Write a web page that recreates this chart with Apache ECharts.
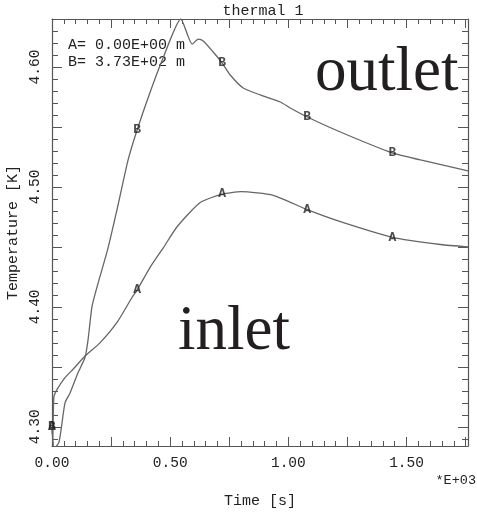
<!DOCTYPE html>
<html>
<head>
<meta charset="utf-8">
<script src="https://cdn.jsdelivr.net/npm/echarts@6/dist/echarts.min.js"></script>
<style>
html,body{margin:0;padding:0;background:#fff;}
#c{width:477px;height:512px;}
</style>
</head>
<body>
<div id="c"></div>
<script>
// ---- data (time in 1E+03 s, temperature in K) ----
const timeA = [0, 0.003, 0.008, 0.021, 0.055, 0.089, 0.140, 0.203, 0.275, 0.339, 0.360, 0.415, 0.470, 0.530, 0.627, 0.720, 0.800, 0.936, 1.080, 1.220, 1.440, 1.644, 1.760];
const tempA = [4.300, 4.289, 4.325, 4.331, 4.341, 4.348, 4.359, 4.370, 4.387, 4.408, 4.414, 4.433, 4.449, 4.467, 4.487, 4.494, 4.496, 4.493, 4.481, 4.471, 4.458, 4.452, 4.450];
const timeB = [0, 0.010, 0.030, 0.055, 0.076, 0.110, 0.140, 0.1525, 0.169, 0.191, 0.237, 0.275, 0.322, 0.360, 0.415, 0.470, 0.545, 0.593, 0.619, 0.640, 0.682, 0.720, 0.754, 0.809, 0.881, 0.966, 1.008, 1.080, 1.220, 1.440, 1.559, 1.760];
const tempB = [4.300, 4.282, 4.2875, 4.320, 4.328, 4.345, 4.358, 4.3725, 4.400, 4.417, 4.449, 4.481, 4.5225, 4.5475, 4.579, 4.6075, 4.640, 4.619, 4.6233, 4.6217, 4.6125, 4.6033, 4.5933, 4.5825, 4.5767, 4.5708, 4.5658, 4.5583, 4.5458, 4.5283, 4.5225, 4.5133];
const markerTimes = [0, 0.360, 0.720, 1.080, 1.440];
const seriesNames = ['A', 'B'];

// ---- axes ----
const xMin = 0, xMax = 1.76;
const yMin = 4.284, yMax = 4.64;
const xLabelValues = [0, 0.5, 1.0, 1.5];
const yLabelValues = [4.30, 4.40, 4.50, 4.60];
const xMajorStep = 0.25, xMinorStep = 0.05;
const yMajorStep = 0.05, yMinorStep = 0.01;

// ---- texts ----
const titleText = 'thermal 1';
const xName = 'Time [s]';
const yName = 'Temperature [K]';
const xScaleNote = '*E+03';
const legendLines = ['A= 0.00E+00 m', 'B= 3.73E+02 m'];
const annotOutlet = 'outlet';
const annotInlet = 'inlet';

const MONO = '"Liberation Mono", "DejaVu Sans Mono", monospace';
const SERIF = '"Liberation Serif", "DejaVu Serif", serif';
const AXC = '#555';
const TXT = '#222';

function r(v){ return Math.round(v * 10000) / 10000; }
function ticks(min, max, step){
  const out = [];
  const start = Math.ceil(r(min / step)) * step;
  for (let v = start; v <= max + 1e-9; v += step) out.push(r(v));
  return out;
}
function isMultiple(v, step){ const q = v / step; return Math.abs(q - Math.round(q)) < 1e-6; }

const xMajor = ticks(xMin, xMax, xMajorStep);
const xMinor = ticks(xMin, xMax, xMinorStep).filter(v => !isMultiple(v, xMajorStep));
const yMajor = ticks(yMin, yMax, yMajorStep);
const yMinor = ticks(yMin, yMax, yMinorStep).filter(v => !isMultiple(v, yMajorStep));

function zip(a, b){ return a.map((v, i) => [v, b[i]]); }
const dataA = zip(timeA, tempA);
const dataB = zip(timeB, tempB);
function markers(data){ return data.filter(p => markerTimes.some(t => Math.abs(t - p[0]) < 1e-9)); }

function xAx(pos, vals, len, line, labels){
  return {
    type: 'value', position: pos, min: xMin, max: xMax,
    axisLine: { show: line, onZero: false, lineStyle: { color: AXC, width: 1.2 } },
    axisTick: { show: true, inside: true, length: len, customValues: vals, lineStyle: { color: AXC, width: 1 } },
    axisLabel: labels ? { show: true, customValues: xLabelValues, formatter: v => v.toFixed(2), margin: 10, fontFamily: MONO, fontSize: 14.5, color: TXT } : { show: false },
    splitLine: { show: false }
  };
}
function yAx(pos, vals, len, line, labels){
  return {
    type: 'value', position: pos, min: yMin, max: yMax,
    axisLine: { show: line, onZero: false, lineStyle: { color: AXC, width: 1.2 } },
    axisTick: { show: true, inside: true, length: len, customValues: vals, lineStyle: { color: AXC, width: 1 } },
    axisLabel: labels ? { show: true, customValues: yLabelValues, formatter: v => v.toFixed(2), rotate: 90, align: 'center', verticalAlign: 'bottom', margin: 9, fontFamily: MONO, fontSize: 14.5, color: TXT } : { show: false },
    splitLine: { show: false }
  };
}
const xAxes = [
  Object.assign(xAx('bottom', xMajor, 9, true, true), { name: xName, nameLocation: 'middle', nameGap: 48, nameTextStyle: { fontFamily: MONO, fontSize: 15, color: TXT } }),
  xAx('bottom', xMinor, 5, false, false), xAx('top', xMajor, 9, true, false), xAx('top', xMinor, 5, false, false)
];
const yAxes = [
  Object.assign(yAx('left', yMajor, 10, true, true), { name: yName, nameLocation: 'middle', nameGap: 25, nameTextStyle: { fontFamily: MONO, fontSize: 15, color: TXT } }),
  yAx('left', yMinor, 6, false, false), yAx('right', yMajor, 10, true, false), yAx('right', yMinor, 6, false, false)
];
function lineSeries(name, data){
  return { name, type: 'line', data, showSymbol: false, symbol: 'none', smooth: 0.2, clip: true, lineStyle: { color: '#666', width: 1.3 }, z: 2, silent: true };
}
function markerSeries(name, data){
  return { name: name + '-mk', type: 'scatter', data: markers(data), symbol: 'rect', symbolSize: 1, itemStyle: { color: 'rgba(0,0,0,0)' },
    label: { show: true, position: 'inside', formatter: () => name, fontFamily: MONO, fontWeight: 'bold', fontSize: 13, color: '#222' }, z: 3, silent: true };
}
const chart = echarts.init(document.getElementById('c'), null, { renderer: 'canvas' });
chart.setOption({
  backgroundColor: '#ffffff', animation: false,
  grid: { left: 52, right: 9, top: 19, bottom: 66, containLabel: false, outerBoundsMode: 'none' },
  xAxis: xAxes, yAxis: yAxes,
  series: [lineSeries(seriesNames[0], dataA), lineSeries(seriesNames[1], dataB), markerSeries(seriesNames[0], dataA), markerSeries(seriesNames[1], dataB)],
  graphic: [
    { type: 'text', x: 263, y: 11, style: { text: titleText, fontFamily: MONO, fontSize: 15, fill: TXT, align: 'center', verticalAlign: 'middle' } },
    { type: 'text', x: 68, y: 45, style: { text: legendLines[0], fontFamily: MONO, fontSize: 15, fill: TXT, align: 'left', verticalAlign: 'middle' } },
    { type: 'text', x: 68, y: 62, style: { text: legendLines[1], fontFamily: MONO, fontSize: 15, fill: TXT, align: 'left', verticalAlign: 'middle' } },
    { type: 'text', x: 476, y: 480, style: { text: xScaleNote, fontFamily: MONO, fontSize: 13.5, fill: TXT, align: 'right', verticalAlign: 'middle' } },
    { type: 'text', x: 315, y: 73, style: { text: annotOutlet, fontFamily: SERIF, fontSize: 63, fill: '#231f20', align: 'left', verticalAlign: 'middle' } },
    { type: 'text', x: 178, y: 332, style: { text: annotInlet, fontFamily: SERIF, fontSize: 63, fill: '#231f20', align: 'left', verticalAlign: 'middle' } }
  ]
});
</script>
</body>
</html>
